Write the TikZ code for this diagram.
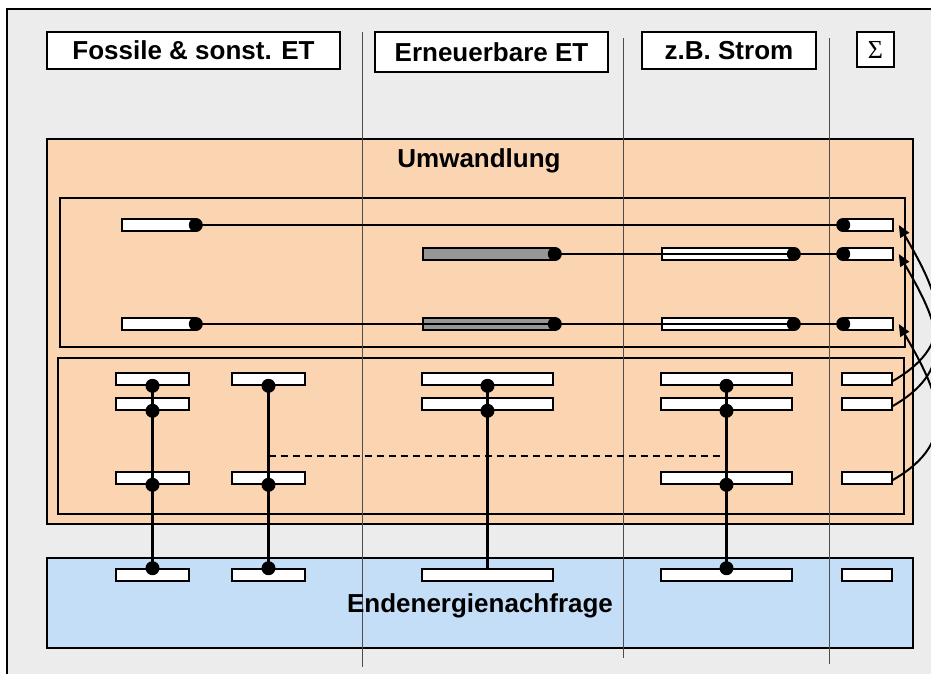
\documentclass[tikz,border=0pt]{standalone}
\usepackage{fontspec}
\setmainfont{Liberation Sans}
\newfontfamily\sigmafont{Liberation Serif}
\usetikzlibrary{arrows.meta}
\definecolor{bggrey}{RGB}{236,236,236}
\definecolor{umworange}{RGB}{251,212,178}
\definecolor{endblue}{RGB}{197,222,248}
\definecolor{bargrey}{RGB}{150,150,150}

\begin{document}
\begin{tikzpicture}[x=1pt,y=-1pt,
    head/.style={draw, fill=white, line width=2pt, inner sep=0pt, font=\fontsize{26}{30}\selectfont\bfseries},
    zone/.style={draw, line width=2pt},
    etbar/.style={draw, fill=white, line width=1.6pt, minimum height=12pt, inner sep=0pt},
    dot/.style={circle, fill=black, inner sep=0pt, minimum size=14pt},
    flow/.style={line width=2.5pt},
    divider/.style={black!70, line width=0.8pt},
    feedback/.style={line width=2pt, -{Triangle[length=12pt,width=10pt]}}]
        \useasboundingbox (0,0) rectangle (931,673);
        \clip (0,0) rectangle (931,673);
        \draw[fill=bggrey, line width=2.5pt] (7,9) rectangle (960,700);

        % Spaltenkoepfe
        \node[head, minimum width=293pt, minimum height=37pt] (fossil) at (193.5,50.5) {Fossile \& sonst. ET};
        \node[head, minimum width=233pt, minimum height=40pt] (erneuer) at (491.5,52) {Erneuerbare ET};
        \node[head, minimum width=174pt, minimum height=37pt] (strom) at (729,50.5) {z.B. Strom};
        \node[head, minimum width=37pt, minimum height=35pt] (summe) at (875.5,49.5) {\sigmafont\mdseries Σ};

        % Bereiche
        \draw[zone, fill=umworange] (47,139) rectangle (913,524);
        \draw[zone] (60,198) rectangle (905,347);
        \draw[zone] (58,358) rectangle (904,514);
        \draw[zone, fill=endblue] (47,558) rectangle (913,648);

        \draw[divider] (362,32) -- (362,667);
        \draw[divider] (623,38) -- (623,658);
        \draw[divider] (829,38) -- (829,664);

        \node[font=\fontsize{26}{30}\selectfont\bfseries, anchor=base] (umw) at (479,167) {Umwandlung};
        \node[font=\fontsize{26}{30}\selectfont\bfseries, anchor=base] (end) at (480,612) {Endenergienachfrage};

        % Umwandlung oben
        \node[etbar, minimum width=73pt] (u1a) at (158.5,225) {};
        \node[etbar, minimum width=49pt] (u1s) at (868.5,225) {};
        \node[etbar, fill=bargrey, minimum width=131pt] (u2g) at (488.5,254) {};
        \node[etbar, minimum width=131pt] (u2w) at (727.5,254) {};
        \node[etbar, minimum width=49pt] (u2s) at (868.5,254) {};
        \node[etbar, minimum width=73pt] (u3a) at (158.5,324) {};
        \node[etbar, fill=bargrey, minimum width=131pt] (u3g) at (488.5,324) {};
        \node[etbar, minimum width=131pt] (u3w) at (727.5,324) {};
        \node[etbar, minimum width=49pt] (u3s) at (868.5,324) {};

        \draw[flow] (u1a.east) -- (u1s.west);
        \draw[flow] (u2g.east) -- (u2s.west);
        \draw[flow] (u3a.east) -- (u3s.west);

        \node[dot] (d1a) at (u1a.east) {};
        \node[dot] (d1s) at (u1s.west) {};
        \node[dot] (d2g) at (u2g.east) {};
        \node[dot] (d2w) at (u2w.east) {};
        \node[dot] (d2s) at (u2s.west) {};
        \node[dot] (d3a) at (u3a.east) {};
        \node[dot] (d3g) at (u3g.east) {};
        \node[dot] (d3w) at (u3w.east) {};
        \node[dot] (d3s) at (u3s.west) {};

        % Umwandlung unten
        \node[etbar, minimum width=73pt] (l1A) at (152.5,379) {};
        \node[etbar, minimum width=73pt] (l2A) at (152.5,404) {};
        \node[etbar, minimum width=73pt] (l3A) at (152.5,478) {};
        \node[etbar, minimum width=73pt] (l1B) at (268.5,379) {};
        \node[etbar, minimum width=73pt] (l3B) at (268.5,478) {};
        \node[etbar, minimum width=131pt] (l1C) at (487.5,379) {};
        \node[etbar, minimum width=131pt] (l2C) at (487.5,404) {};
        \node[etbar, minimum width=131pt] (l1D) at (726.5,379) {};
        \node[etbar, minimum width=131pt] (l2D) at (726.5,404) {};
        \node[etbar, minimum width=131pt] (l3D) at (726.5,478) {};
        \node[etbar, minimum width=50pt] (l1E) at (867,379) {};
        \node[etbar, minimum width=50pt] (l2E) at (867,404) {};
        \node[etbar, minimum width=50pt] (l3E) at (867,478) {};

        % Endenergie
        \node[etbar, minimum width=73pt] (eA) at (152.5,575) {};
        \node[etbar, minimum width=73pt] (eB) at (268.5,575) {};
        \node[etbar, minimum width=131pt] (eC) at (487.5,575) {};
        \node[etbar, minimum width=131pt] (eD) at (726.5,575) {};
        \node[etbar, minimum width=50pt] (eE) at (867,575) {};

        \coordinate (dashL) at (268.5,456);
        \coordinate (dashR) at (720,456);
        \draw[line width=1.4pt, dash pattern=on 7pt off 5pt] (dashL) -- (dashR);

        \draw[flow] (l1A.south) -- (eA.north);
        \draw[flow] (l1B.south) -- (eB.north);
        \draw[flow] (l1C.south) -- (eC.north);
        \draw[flow] (l1D.south) -- (eD.north);

        \node[dot] at (l1A.south) {};
        \node[dot] at (l2A.south) {};
        \node[dot] at (l3A.south) {};
        \node[dot] at (eA.north) {};
        \node[dot] at (l1B.south) {};
        \node[dot] at (l3B.south) {};
        \node[dot] at (eB.north) {};
        \node[dot] at (l1C.south) {};
        \node[dot] at (l2C.south) {};
        \node[dot] at (l1D.south) {};
        \node[dot] at (l2D.south) {};
        \node[dot] at (l3D.south) {};
        \node[dot] at (eD.north) {};

        % Rueckfluss
        \draw[feedback] ([yshift=-2pt]l1E.east) to[out=30,in=-60,looseness=1.3] ([xshift=5pt]u1s.east);
        \draw[feedback] ([yshift=-2pt]l2E.east) to[out=30,in=-60,looseness=1.3] ([xshift=5pt]u2s.east);
        \draw[feedback] ([yshift=-2pt]l3E.east) to[out=30,in=-60,looseness=1.3] ([xshift=5pt]u3s.east);
\end{tikzpicture}
\end{document}
